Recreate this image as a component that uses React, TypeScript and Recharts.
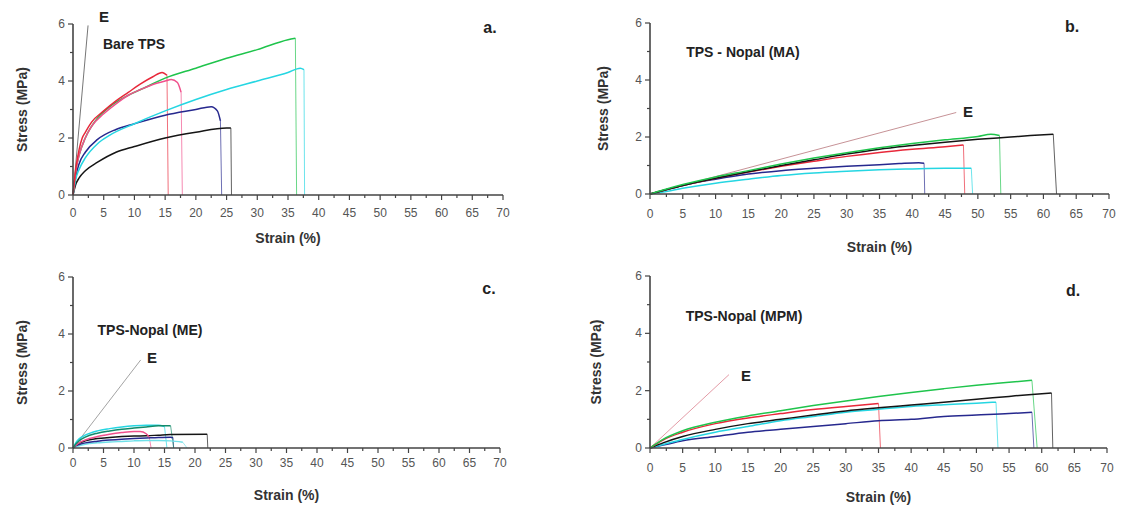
import React from 'react';
import { LineChart, Line, XAxis, YAxis } from 'recharts';

type Pt = { x: number; y: number };

// ---------- Panel a: Bare TPS ----------
const aRed: Pt[] = [
  { x: 0, y: 0 }, { x: 0.5, y: 1.0 }, { x: 1, y: 1.6 }, { x: 1.5, y: 2.0 }, { x: 2, y: 2.2 }, { x: 3, y: 2.55 },
  { x: 5, y: 2.95 }, { x: 7, y: 3.3 }, { x: 9, y: 3.6 }, { x: 11, y: 3.9 }, { x: 13, y: 4.15 }, { x: 14.5, y: 4.3 },
  { x: 15.3, y: 4.2 }, { x: 15.5, y: 0 },
];
const aMagenta: Pt[] = [
  { x: 0, y: 0 }, { x: 0.5, y: 0.9 }, { x: 1, y: 1.4 }, { x: 2, y: 2.0 }, { x: 3, y: 2.4 }, { x: 5, y: 2.85 },
  { x: 7, y: 3.2 }, { x: 9, y: 3.5 }, { x: 11, y: 3.7 }, { x: 13, y: 3.88 }, { x: 15, y: 4.0 }, { x: 16, y: 4.05 },
  { x: 17, y: 3.95 }, { x: 17.6, y: 3.6 }, { x: 17.8, y: 0 },
];
const aGreen: Pt[] = [
  { x: 0, y: 0 }, { x: 0.5, y: 0.9 }, { x: 1, y: 1.4 }, { x: 2, y: 2.0 }, { x: 4, y: 2.7 }, { x: 6, y: 3.1 },
  { x: 9, y: 3.5 }, { x: 12, y: 3.8 }, { x: 15, y: 4.1 }, { x: 20, y: 4.45 }, { x: 25, y: 4.8 }, { x: 30, y: 5.1 },
  { x: 35, y: 5.45 }, { x: 36.2, y: 5.5 }, { x: 36.4, y: 0 },
];
const aCyan: Pt[] = [
  { x: 0, y: 0 }, { x: 0.5, y: 0.6 }, { x: 1, y: 0.9 }, { x: 2, y: 1.3 }, { x: 4, y: 1.8 }, { x: 6, y: 2.1 },
  { x: 10, y: 2.5 }, { x: 15, y: 2.95 }, { x: 20, y: 3.35 }, { x: 25, y: 3.7 }, { x: 30, y: 4.0 }, { x: 35, y: 4.3 },
  { x: 37, y: 4.45 }, { x: 37.6, y: 4.4 }, { x: 37.7, y: 0 },
];
const aNavy: Pt[] = [
  { x: 0, y: 0 }, { x: 0.5, y: 0.7 }, { x: 1, y: 1.1 }, { x: 2, y: 1.5 }, { x: 4, y: 1.95 }, { x: 7, y: 2.3 },
  { x: 10, y: 2.5 }, { x: 15, y: 2.8 }, { x: 20, y: 3.0 }, { x: 22.5, y: 3.1 }, { x: 23.5, y: 2.95 }, { x: 24, y: 2.6 },
  { x: 24.2, y: 0 },
];
const aBlack: Pt[] = [
  { x: 0, y: 0 }, { x: 0.5, y: 0.4 }, { x: 1, y: 0.6 }, { x: 2, y: 0.85 }, { x: 4, y: 1.15 }, { x: 7, y: 1.5 },
  { x: 10, y: 1.7 }, { x: 15, y: 2.0 }, { x: 20, y: 2.2 }, { x: 25, y: 2.35 }, { x: 25.7, y: 2.35 }, { x: 25.8, y: 0 },
];
const aModulus: Pt[] = [{ x: 0, y: 0 }, { x: 2.45, y: 5.95 }];

// ---------- Panel b: TPS - Nopal (MA) ----------
const bBlack: Pt[] = [
  { x: 0, y: 0 }, { x: 2, y: 0.12 }, { x: 5, y: 0.3 }, { x: 10, y: 0.55 }, { x: 15, y: 0.78 }, { x: 20, y: 1.0 },
  { x: 25, y: 1.2 }, { x: 30, y: 1.4 }, { x: 35, y: 1.57 }, { x: 40, y: 1.7 }, { x: 45, y: 1.82 }, { x: 50, y: 1.92 },
  { x: 55, y: 2.0 }, { x: 58, y: 2.05 }, { x: 61.5, y: 2.1 }, { x: 62, y: 0 },
];
const bGreen: Pt[] = [
  { x: 0, y: 0 }, { x: 2, y: 0.14 }, { x: 5, y: 0.33 }, { x: 10, y: 0.6 }, { x: 15, y: 0.82 }, { x: 20, y: 1.05 },
  { x: 25, y: 1.26 }, { x: 30, y: 1.45 }, { x: 35, y: 1.62 }, { x: 40, y: 1.77 }, { x: 45, y: 1.9 }, { x: 50, y: 2.02 },
  { x: 52, y: 2.1 }, { x: 53.3, y: 2.05 }, { x: 53.5, y: 0 },
];
const bRed: Pt[] = [
  { x: 0, y: 0 }, { x: 2, y: 0.12 }, { x: 5, y: 0.3 }, { x: 10, y: 0.55 }, { x: 15, y: 0.77 }, { x: 20, y: 0.97 },
  { x: 25, y: 1.15 }, { x: 30, y: 1.32 }, { x: 35, y: 1.46 }, { x: 40, y: 1.57 }, { x: 45, y: 1.66 }, { x: 47.8, y: 1.72 },
  { x: 48, y: 0 },
];
const bNavy: Pt[] = [
  { x: 0, y: 0 }, { x: 2, y: 0.12 }, { x: 5, y: 0.3 }, { x: 10, y: 0.52 }, { x: 15, y: 0.7 }, { x: 20, y: 0.82 },
  { x: 25, y: 0.9 }, { x: 30, y: 0.97 }, { x: 35, y: 1.03 }, { x: 38, y: 1.07 }, { x: 41, y: 1.1 }, { x: 41.8, y: 1.08 },
  { x: 41.9, y: 0 },
];
const bCyan: Pt[] = [
  { x: 0, y: 0 }, { x: 2, y: 0.07 }, { x: 5, y: 0.2 }, { x: 10, y: 0.38 }, { x: 15, y: 0.52 }, { x: 20, y: 0.65 },
  { x: 25, y: 0.74 }, { x: 30, y: 0.8 }, { x: 35, y: 0.85 }, { x: 40, y: 0.88 }, { x: 45, y: 0.9 }, { x: 49, y: 0.9 },
  { x: 49.2, y: 0 },
];
const bModulus: Pt[] = [{ x: 0, y: 0 }, { x: 46.7, y: 2.86 }];

// ---------- Panel c: TPS-Nopal (ME) ----------
const cGreen: Pt[] = [
  { x: 0, y: 0 }, { x: 0.5, y: 0.15 }, { x: 1, y: 0.25 }, { x: 2, y: 0.38 }, { x: 4, y: 0.52 }, { x: 6, y: 0.6 },
  { x: 8, y: 0.66 }, { x: 10, y: 0.7 }, { x: 12, y: 0.74 }, { x: 14, y: 0.78 }, { x: 16, y: 0.78 }, { x: 16.5, y: 0 },
];
const cCyan: Pt[] = [
  { x: 0, y: 0 }, { x: 0.5, y: 0.2 }, { x: 1, y: 0.32 }, { x: 2, y: 0.45 }, { x: 4, y: 0.6 }, { x: 6, y: 0.68 },
  { x: 8, y: 0.74 }, { x: 10, y: 0.78 }, { x: 12, y: 0.8 }, { x: 14, y: 0.8 }, { x: 15, y: 0.75 }, { x: 15.4, y: 0 },
];
const cPink: Pt[] = [
  { x: 0, y: 0 }, { x: 0.5, y: 0.1 }, { x: 1, y: 0.18 }, { x: 2, y: 0.28 }, { x: 4, y: 0.4 }, { x: 6, y: 0.48 },
  { x: 8, y: 0.54 }, { x: 10, y: 0.58 }, { x: 11, y: 0.58 }, { x: 12, y: 0.5 }, { x: 12.5, y: 0.38 }, { x: 12.8, y: 0 },
];
const cBlack: Pt[] = [
  { x: 0, y: 0 }, { x: 0.5, y: 0.1 }, { x: 1, y: 0.17 }, { x: 2, y: 0.25 }, { x: 4, y: 0.33 }, { x: 6, y: 0.37 },
  { x: 8, y: 0.4 }, { x: 10, y: 0.42 }, { x: 12, y: 0.43 }, { x: 14, y: 0.45 }, { x: 16, y: 0.47 }, { x: 22, y: 0.48 },
  { x: 22.1, y: 0 },
];
const cNavy: Pt[] = [
  { x: 0, y: 0 }, { x: 0.5, y: 0.08 }, { x: 1, y: 0.12 }, { x: 2, y: 0.18 }, { x: 4, y: 0.24 }, { x: 6, y: 0.28 },
  { x: 8, y: 0.31 }, { x: 10, y: 0.33 }, { x: 12, y: 0.35 }, { x: 14, y: 0.37 }, { x: 16, y: 0.38 }, { x: 16.4, y: 0.36 },
  { x: 16.5, y: 0 },
];
const cCyanLow: Pt[] = [
  { x: 0, y: 0 }, { x: 1, y: 0.08 }, { x: 2, y: 0.13 }, { x: 4, y: 0.18 }, { x: 6, y: 0.21 }, { x: 8, y: 0.23 },
  { x: 10, y: 0.25 }, { x: 12, y: 0.26 }, { x: 14, y: 0.26 }, { x: 16, y: 0.25 }, { x: 18, y: 0.2 }, { x: 18.7, y: 0 },
];
const cModulus: Pt[] = [{ x: 0, y: 0 }, { x: 11.1, y: 3.09 }];

// ---------- Panel d: TPS-Nopal (MPM) ----------
const dGreen: Pt[] = [
  { x: 0, y: 0 }, { x: 2, y: 0.3 }, { x: 5, y: 0.6 }, { x: 10, y: 0.9 }, { x: 15, y: 1.12 }, { x: 20, y: 1.3 },
  { x: 25, y: 1.48 }, { x: 30, y: 1.64 }, { x: 35, y: 1.8 }, { x: 40, y: 1.94 }, { x: 45, y: 2.07 }, { x: 50, y: 2.19 },
  { x: 55, y: 2.29 }, { x: 58.5, y: 2.36 }, { x: 59.3, y: 0 },
];
const dBlack: Pt[] = [
  { x: 0, y: 0 }, { x: 2, y: 0.18 }, { x: 5, y: 0.4 }, { x: 10, y: 0.65 }, { x: 15, y: 0.85 }, { x: 20, y: 1.0 },
  { x: 25, y: 1.15 }, { x: 30, y: 1.29 }, { x: 35, y: 1.4 }, { x: 40, y: 1.5 }, { x: 45, y: 1.6 }, { x: 50, y: 1.7 },
  { x: 55, y: 1.8 }, { x: 58, y: 1.86 }, { x: 61.5, y: 1.92 }, { x: 61.7, y: 0 },
];
const dRed: Pt[] = [
  { x: 0, y: 0 }, { x: 2, y: 0.28 }, { x: 5, y: 0.55 }, { x: 10, y: 0.85 }, { x: 15, y: 1.05 }, { x: 20, y: 1.2 },
  { x: 25, y: 1.34 }, { x: 30, y: 1.45 }, { x: 35, y: 1.55 }, { x: 35.3, y: 0 },
];
const dCyan: Pt[] = [
  { x: 0, y: 0 }, { x: 2, y: 0.12 }, { x: 5, y: 0.3 }, { x: 10, y: 0.55 }, { x: 15, y: 0.75 }, { x: 20, y: 0.95 },
  { x: 25, y: 1.1 }, { x: 30, y: 1.25 }, { x: 35, y: 1.35 }, { x: 40, y: 1.45 }, { x: 45, y: 1.51 }, { x: 50, y: 1.56 },
  { x: 53, y: 1.6 }, { x: 53.3, y: 0 },
];
const dNavy: Pt[] = [
  { x: 0, y: 0 }, { x: 2, y: 0.1 }, { x: 5, y: 0.25 }, { x: 10, y: 0.4 }, { x: 15, y: 0.55 }, { x: 20, y: 0.65 },
  { x: 25, y: 0.75 }, { x: 30, y: 0.85 }, { x: 35, y: 0.95 }, { x: 40, y: 1.0 }, { x: 45, y: 1.1 }, { x: 50, y: 1.15 },
  { x: 55, y: 1.2 }, { x: 58.5, y: 1.25 }, { x: 58.8, y: 0 },
];
const dModulus: Pt[] = [{ x: 0, y: 0 }, { x: 12.1, y: 2.56 }];

// ---------- Axis ticks ----------
const strainTicks = [0, 2.5, 5, 7.5, 10, 12.5, 15, 17.5, 20, 22.5, 25, 27.5, 30, 32.5, 35, 37.5, 40, 42.5, 45, 47.5, 50, 52.5, 55, 57.5, 60, 62.5, 65, 67.5, 70];
const stressTicks = [0, 1, 2, 3, 4, 5, 6];

const COLORS = {
  black: '#151515',
  red: '#e8283a',
  magenta: '#f0508c',
  green: '#1fc44c',
  cyan: '#25d6e2',
  navy: '#26288e',
  teal: '#138a6a',
  cyanLow: '#6fe0e8',
};

const FONT = '"Liberation Sans", Arial, sans-serif';

type Series = { key: string; color: string; data: Pt[] };

type PanelSpec = {
  left: number;
  top: number;
  width: number;
  height: number;
  yAxisWidth: number;
  marginTop: number;
  marginRight: number;
  xAxisHeight: number;
  tickLabelDy: number;
  xTitleDy: number;
  yTitleDx: number;
  series: Series[];
  modulus: Pt[];
  modulusColor: string;
};

const XTick = (props: any) => {
  const { x, y, payload, labelDy } = props;
  const v = payload.value as number;
  const major = Math.abs(v % 5) < 1e-6;
  return (
    <g>
      <line x1={x} x2={x} y1={y} y2={y + (major ? 5 : 3)} stroke="#444" strokeWidth={1.2} />
      {major && (
        <text x={x} y={y + labelDy} textAnchor="middle" fontSize={12} fill="#555" fontFamily={FONT}>
          {v}
        </text>
      )}
    </g>
  );
};

const YTick = (props: any) => {
  const { x, y, payload } = props;
  const v = payload.value as number;
  const major = v % 2 === 0;
  return (
    <g>
      <line x1={x - (major ? 5 : 3)} x2={x} y1={y} y2={y} stroke="#444" strokeWidth={1.2} />
      {major && (
        <text x={x - 8} y={y + 4} textAnchor="end" fontSize={12} fill="#555" fontFamily={FONT}>
          {v}
        </text>
      )}
    </g>
  );
};

const Panel = ({ spec }: { spec: PanelSpec }) => {
  const s = spec;
  return (
    <div style={{ position: 'absolute', left: s.left, top: s.top, width: s.width, height: s.height }}>
      <LineChart
        width={s.width}
        height={s.height}
        margin={{ top: s.marginTop, right: s.marginRight, bottom: 0, left: 0 }}
      >
        <XAxis
          type="number"
          dataKey="x"
          domain={[0, 70]}
          ticks={strainTicks}
          interval={0}
          tickSize={0}
          tickMargin={0}
          tickLine={false}
          height={s.xAxisHeight}
          axisLine={{ stroke: '#444', strokeWidth: 1.6 }}
          tick={(p: any) => <XTick {...p} labelDy={s.tickLabelDy} />}
          label={(p: any) => {
            const vb = p.viewBox || {};
            return (
              <text
                x={vb.x + vb.width / 2}
                y={vb.y + s.xTitleDy}
                textAnchor="middle"
                fontSize={14}
                fontWeight="bold"
                fill="#333"
                fontFamily={FONT}
              >
                Strain (%)
              </text>
            );
          }}
        />
        <YAxis
          type="number"
          dataKey="y"
          domain={[0, 6]}
          ticks={stressTicks}
          interval={0}
          tickSize={0}
          tickMargin={0}
          tickLine={false}
          width={s.yAxisWidth}
          axisLine={{ stroke: '#444', strokeWidth: 1.6 }}
          tick={(p: any) => <YTick {...p} />}
          label={(p: any) => {
            const vb = p.viewBox || {};
            const cx = vb.x + s.yTitleDx;
            const cy = vb.y + vb.height / 2;
            return (
              <text
                x={cx}
                y={cy}
                transform={`rotate(-90, ${cx}, ${cy})`}
                textAnchor="middle"
                dominantBaseline="central"
                fontSize={14}
                fontWeight="bold"
                fill="#333"
                fontFamily={FONT}
              >
                Stress (MPa)
              </text>
            );
          }}
        />
        <Line
          data={s.modulus}
          dataKey="y"
          type="linear"
          dot={false}
          stroke={s.modulusColor}
          strokeWidth={0.9}
          isAnimationActive={false}
        />
        {s.series.map((se) => (
          <Line
            key={se.key + '-drop'}
            data={se.data.slice(-2)}
            dataKey="y"
            type="linear"
            dot={false}
            stroke={se.color}
            strokeWidth={0.9}
            strokeOpacity={0.75}
            isAnimationActive={false}
          />
        ))}
        {s.series.map((se) => (
          <Line
            key={se.key}
            data={se.data.slice(0, -1)}
            dataKey="y"
            type="monotone"
            dot={false}
            stroke={se.color}
            strokeWidth={1.5}
            isAnimationActive={false}
          />
        ))}
      </LineChart>
    </div>
  );
};

const panelA: PanelSpec = {
  left: 0, top: 0, width: 560, height: 255,
  yAxisWidth: 73, marginTop: 24, marginRight: 57, xAxisHeight: 60,
  tickLabelDy: 22, xTitleDy: 48, yTitleDx: 22,
  series: [
    { key: 'black', color: COLORS.black, data: aBlack },
    { key: 'navy', color: COLORS.navy, data: aNavy },
    { key: 'cyan', color: COLORS.cyan, data: aCyan },
    { key: 'green', color: COLORS.green, data: aGreen },
    { key: 'magenta', color: COLORS.magenta, data: aMagenta },
    { key: 'red', color: COLORS.red, data: aRed },
  ],
  modulus: aModulus, modulusColor: '#666',
};

const panelB: PanelSpec = {
  left: 560, top: 0, width: 566, height: 260,
  yAxisWidth: 90, marginTop: 23, marginRight: 17, xAxisHeight: 66,
  tickLabelDy: 24, xTitleDy: 58, yTitleDx: 43,
  series: [
    { key: 'cyan', color: COLORS.cyan, data: bCyan },
    { key: 'navy', color: COLORS.navy, data: bNavy },
    { key: 'red', color: COLORS.red, data: bRed },
    { key: 'black', color: COLORS.black, data: bBlack },
    { key: 'green', color: COLORS.green, data: bGreen },
  ],
  modulus: bModulus, modulusColor: '#c0868a',
};

const panelC: PanelSpec = {
  left: 0, top: 260, width: 560, height: 251,
  yAxisWidth: 73, marginTop: 17, marginRight: 60, xAxisHeight: 63,
  tickLabelDy: 19, xTitleDy: 52, yTitleDx: 22,
  series: [
    { key: 'cyanLow', color: COLORS.cyanLow, data: cCyanLow },
    { key: 'navy', color: COLORS.navy, data: cNavy },
    { key: 'black', color: COLORS.black, data: cBlack },
    { key: 'pink', color: COLORS.magenta, data: cPink },
    { key: 'cyan', color: COLORS.cyan, data: cCyan },
    { key: 'green', color: COLORS.teal, data: cGreen },
  ],
  modulus: cModulus, modulusColor: '#999',
};

const panelD: PanelSpec = {
  left: 560, top: 260, width: 566, height: 251,
  yAxisWidth: 90, marginTop: 16, marginRight: 19, xAxisHeight: 63,
  tickLabelDy: 24, xTitleDy: 54, yTitleDx: 36,
  series: [
    { key: 'navy', color: COLORS.navy, data: dNavy },
    { key: 'cyan', color: COLORS.cyan, data: dCyan },
    { key: 'black', color: COLORS.black, data: dBlack },
    { key: 'red', color: COLORS.red, data: dRed },
    { key: 'green', color: COLORS.green, data: dGreen },
  ],
  modulus: dModulus, modulusColor: '#e0909c',
};

const Note = ({ x, y, text, size = 14 }: { x: number; y: number; text: string; size?: number }) => (
  <div
    style={{
      position: 'absolute',
      left: x,
      top: y,
      transform: 'translate(-50%, -50%)',
      fontFamily: FONT,
      fontWeight: 'bold',
      fontSize: size,
      color: '#222',
      whiteSpace: 'nowrap',
      lineHeight: 1,
    }}
  >
    {text}
  </div>
);

export default function App() {
  return (
    <div
      style={{
        position: 'absolute',
        left: 0,
        top: 0,
        width: 1126,
        height: 511,
        background: '#fff',
        overflow: 'hidden',
        fontFamily: FONT,
      }}
    >
      <Panel spec={panelA} />
      <Panel spec={panelB} />
      <Panel spec={panelC} />
      <Panel spec={panelD} />

      <Note x={104} y={16} text="E" size={15} />
      <Note x={134} y={44} text="Bare TPS" />
      <Note x={490} y={28} text="a." size={16} />

      <Note x={743} y={52} text="TPS - Nopal (MA)" />
      <Note x={968} y={111} text="E" size={15} />
      <Note x={1072} y={27} text="b." size={16} />

      <Note x={150} y={330} text="TPS-Nopal (ME)" />
      <Note x={152} y={357} text="E" size={15} />
      <Note x={489} y={289} text="c." size={16} />

      <Note x={744} y={316} text="TPS-Nopal (MPM)" />
      <Note x={746} y={375} text="E" size={15} />
      <Note x={1073} y={291} text="d." size={16} />
    </div>
  );
}
